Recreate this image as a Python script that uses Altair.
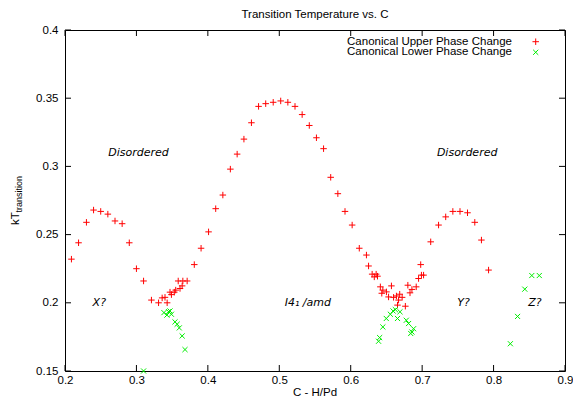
import altair as alt
import pandas as pd

# ---------------- data ----------------
upper_x = [0.209, 0.219, 0.230, 0.240, 0.250, 0.260, 0.270, 0.280, 0.290, 0.300,
           0.310, 0.321, 0.331, 0.336, 0.340, 0.343, 0.347, 0.349, 0.353, 0.355,
           0.361, 0.364, 0.3585, 0.365, 0.371, 0.381, 0.3905, 0.401, 0.411, 0.421,
           0.4315, 0.441, 0.4505, 0.461, 0.471, 0.481, 0.4915, 0.502, 0.512, 0.522,
           0.532, 0.542, 0.552, 0.562, 0.572, 0.582, 0.592, 0.602, 0.612, 0.622,
           0.625, 0.630, 0.6356, 0.633, 0.6375, 0.6415, 0.645, 0.6435, 0.650, 0.653,
           0.657, 0.660, 0.664, 0.6686, 0.672, 0.667, 0.6655, 0.6765, 0.680, 0.683,
           0.6857, 0.6917, 0.695, 0.699, 0.702, 0.698, 0.712, 0.723, 0.733, 0.743,
           0.753, 0.7635, 0.7737, 0.783, 0.793]
upper_y = [0.232, 0.244, 0.259, 0.268, 0.267, 0.265, 0.260, 0.258, 0.244, 0.225,
           0.216, 0.202, 0.200, 0.2036, 0.204, 0.200, 0.2078, 0.206, 0.2078, 0.2093,
           0.2105, 0.2124, 0.216, 0.216, 0.216, 0.228, 0.240, 0.252, 0.269, 0.279,
           0.298, 0.309, 0.320, 0.332, 0.344, 0.346, 0.347, 0.348, 0.347, 0.344,
           0.338, 0.330, 0.321, 0.313, 0.292, 0.280, 0.267, 0.257, 0.240, 0.235,
           0.227, 0.221, 0.221, 0.219, 0.2195, 0.2117, 0.2093, 0.207, 0.208, 0.2043,
           0.2124, 0.204, 0.205, 0.2063, 0.204, 0.202, 0.1983, 0.1975, 0.2129, 0.2073,
           0.2098, 0.2117, 0.2178, 0.2203, 0.2203, 0.228, 0.2447, 0.257, 0.263, 0.267,
           0.267, 0.266, 0.259, 0.246, 0.224]

lower_x = [0.310, 0.3385, 0.3427, 0.347, 0.349, 0.345, 0.354, 0.357, 0.360, 0.364,
           0.368, 0.639, 0.6405, 0.645, 0.6498, 0.6555, 0.6593, 0.6625, 0.6655, 0.669,
           0.6778, 0.681, 0.6857, 0.688, 0.684, 0.8235, 0.8336, 0.8437, 0.8535, 0.864]
lower_y = [0.150, 0.1928, 0.191, 0.194, 0.1916, 0.1935, 0.186, 0.1843, 0.1816, 0.1757,
           0.1657, 0.1718, 0.1745, 0.1823, 0.1885, 0.1916, 0.194, 0.195, 0.1885, 0.1934,
           0.1872, 0.1848, 0.1786, 0.181, 0.1775, 0.170, 0.190, 0.210, 0.220, 0.220]

region_text = ["Disordered", "Disordered", "X?", "I4\u2081 /amd", "Y?", "Z?"]
region_x = [0.303, 0.763, 0.248, 0.540, 0.758, 0.858]
region_y = [0.310, 0.310, 0.200, 0.200, 0.200, 0.200]

x_ticks = [0.2, 0.3, 0.4, 0.5, 0.6, 0.7, 0.8, 0.9]
y_ticks = [0.15, 0.2, 0.25, 0.3, 0.35, 0.4]

series_names = ["Canonical Upper Phase Change", "Canonical Lower Phase Change"]
series_colors = ["#ff0000", "#00ee00"]
chart_title = "Transition Temperature vs. C"
x_title = "C - H/Pd"

# ---------------- layout ----------------
W, H = 500, 341
PAD_L, PAD_T, PAD_R, PAD_B = 57, 22, 8, 26
FONT = "Liberation Sans"
FS = 11.5
PLUS = "M-1,0L1,0M0,-1L0,1"
CROSS = "M-1,-1L1,1M-1,1L1,-1"

xs = alt.Scale(domain=[0.2, 0.9], nice=False, zero=False)
ys = alt.Scale(domain=[0.15, 0.4], nice=False, zero=False)

xaxis = alt.Axis(values=x_ticks, format="~g", ticks=False, tickSize=0, domain=False,
                 grid=False, labelFont=FONT, labelFontSize=FS, labelColor="black",
                 labelPadding=3, labelFlush=False, labelOverlap=False, title=None)
yaxis = alt.Axis(values=y_ticks, format="~g", ticks=False, tickSize=0, domain=False,
                 grid=False, labelFont=FONT, labelFontSize=FS, labelColor="black",
                 labelPadding=7, labelFlush=False, labelOverlap=False, title=None)

df_u = pd.DataFrame({"x": upper_x, "y": upper_y})
df_l = pd.DataFrame({"x": lower_x, "y": lower_y})
df_r = pd.DataFrame({"x": region_x, "y": region_y, "t": region_text})
df_xt = pd.DataFrame({"x": x_ticks})
df_yt = pd.DataFrame({"y": y_ticks})

X = alt.X("x:Q", scale=xs, axis=xaxis)
Y = alt.Y("y:Q", scale=ys, axis=yaxis)

upper = alt.Chart(df_u).mark_point(shape=PLUS, filled=False, color=series_colors[0],
                                   size=42, strokeWidth=1, opacity=1).encode(x=X, y=Y)
lower = alt.Chart(df_l).mark_point(shape=CROSS, filled=False, color=series_colors[1],
                                   size=26, strokeWidth=1, opacity=1).encode(x=X, y=Y)

regions = alt.Chart(df_r).mark_text(font="DejaVu Sans", fontSize=11, fontStyle="italic",
                                    color="black", align="center", baseline="middle"
                                    ).encode(x=X, y=Y, text="t:N")

tk = 6
xt_bot = alt.Chart(df_xt).mark_rule(color="black", strokeWidth=1).encode(
    x=X, y=alt.value(H), y2=alt.value(H - tk))
xt_top = alt.Chart(df_xt).mark_rule(color="black", strokeWidth=1).encode(
    x=X, y=alt.value(0), y2=alt.value(tk))
yt_left = alt.Chart(df_yt).mark_rule(color="black", strokeWidth=1).encode(
    y=Y, x=alt.value(0), x2=alt.value(tk))
yt_right = alt.Chart(df_yt).mark_rule(color="black", strokeWidth=1).encode(
    y=Y, x=alt.value(W - tk), x2=alt.value(W))

one = pd.DataFrame({"a": [0]})

title_m = alt.Chart(one).mark_text(font=FONT, fontSize=FS, color="black", align="center",
                                   baseline="alphabetic").encode(
    x=alt.value(W / 2), y=alt.value(-12), text=alt.value(chart_title))
xtitle_m = alt.Chart(one).mark_text(font=FONT, fontSize=FS, color="black", align="center",
                                    baseline="alphabetic").encode(
    x=alt.value(W / 2), y=alt.value(H + 25), text=alt.value(x_title))
ytitle_main = alt.Chart(one).mark_text(font=FONT, fontSize=FS, color="black", align="left",
                                       baseline="alphabetic", angle=270).encode(
    x=alt.value(-46), y=alt.value(195), text=alt.value("kT"))
ytitle_sub = alt.Chart(one).mark_text(font=FONT, fontSize=9, color="black", align="left",
                                      baseline="alphabetic", angle=270).encode(
    x=alt.value(-43.5), y=alt.value(182.5), text=alt.value("transition"))

leg_text1 = alt.Chart(one).mark_text(font=FONT, fontSize=FS, color="black", align="right",
                                     baseline="middle").encode(
    x=alt.value(W - 53), y=alt.value(11.7), text=alt.value(series_names[0]))
leg_text2 = alt.Chart(one).mark_text(font=FONT, fontSize=FS, color="black", align="right",
                                     baseline="middle").encode(
    x=alt.value(W - 53), y=alt.value(22.3), text=alt.value(series_names[1]))
leg_sym1 = alt.Chart(one).mark_point(shape=PLUS, filled=False, color=series_colors[0],
                                     size=42, strokeWidth=1, opacity=1).encode(
    x=alt.value(W - 29.3), y=alt.value(11.7))
leg_sym2 = alt.Chart(one).mark_point(shape=CROSS, filled=False, color=series_colors[1],
                                     size=26, strokeWidth=1, opacity=1).encode(
    x=alt.value(W - 29.3), y=alt.value(22.3))

chart = alt.layer(
    upper, lower, regions, xt_bot, xt_top, yt_left, yt_right,
    title_m, xtitle_m, ytitle_main, ytitle_sub,
    leg_text1, leg_text2, leg_sym1, leg_sym2
).properties(
    width=W, height=H,
    autosize=alt.AutoSizeParams(type="none"),
    padding={"left": PAD_L, "top": PAD_T, "right": PAD_R, "bottom": PAD_B},
    background="white",
).configure_view(stroke="black", strokeWidth=1)

chart.save("out.html", embed_options={"renderer": "svg", "actions": False})
